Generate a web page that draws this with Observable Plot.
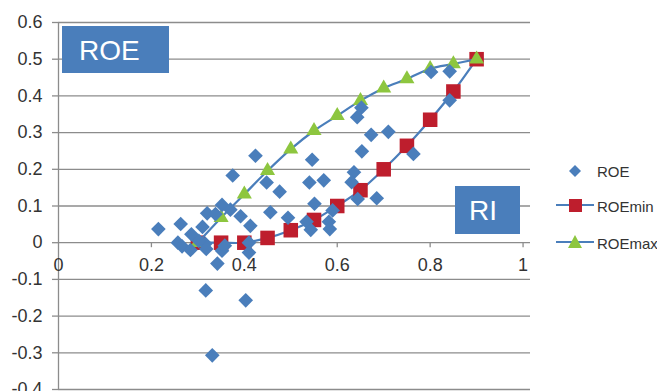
<!DOCTYPE html>
<html>
<head>
<meta charset="utf-8">
<script src="https://cdn.jsdelivr.net/npm/d3@7"></script>
<script src="https://cdn.jsdelivr.net/npm/@observablehq/plot@0.6"></script>
<style>
  html, body { margin: 0; padding: 0; background: #fff; overflow: hidden; }
  #wrap { position: relative; width: 657px; height: 391px; font-family: "Liberation Sans", Arial, sans-serif; }
  #chart { position: absolute; left: 0; top: 0; }
  .box { position: absolute; background: #4a7ebb; color: #fff; font-size: 28px; }
  .box span { position: absolute; line-height: 1; }
  .leg { position: absolute; font-size: 15px; color: #333; line-height: 1; }
  .legsym { position: absolute; }
</style>
</head>
<body>
<div id="wrap">
  <div id="chart"></div>
  <div class="box" style="left:62px;top:26px;width:107px;height:47px;"><span style="left:17px;top:11px;">ROE</span></div>
  <div class="box" style="left:455px;top:186px;width:65px;height:48px;"><span style="left:14px;top:11px;">RI</span></div>
  <svg class="legsym" style="left:550px;top:160px;" width="50" height="95">
    <path d="M25,5 L31,11 L25,17 L19,11 Z" fill="#4a7ebb"/>
    <line x1="6" y1="45" x2="44" y2="45" stroke="#4a7ebb" stroke-width="2"/>
    <rect x="19" y="39" width="13" height="13" fill="#be1e2d"/>
    <line x1="6" y1="82" x2="44" y2="82" stroke="#4a7ebb" stroke-width="2"/>
    <path d="M25,75 L32,88 L18,88 Z" fill="#8dc63f"/>
  </svg>
  <div class="leg" style="left:597px;top:164px;">ROE</div>
  <div class="leg" style="left:597px;top:199px;">ROEmin</div>
  <div class="leg" style="left:597px;top:236px;">ROEmax</div>
</div>
<script>
// ---- data ----
const riGrid   = [0.3, 0.35, 0.4, 0.45, 0.5, 0.55, 0.6, 0.65, 0.7, 0.75, 0.8, 0.85, 0.9];
const roeMin   = [0, 0, 0, 0.013, 0.034, 0.062, 0.1, 0.143, 0.2, 0.264, 0.335, 0.412, 0.5];
const roeMax   = [0, 0.068, 0.132, 0.196, 0.255, 0.305, 0.346, 0.387, 0.421, 0.446, 0.474, 0.487, 0.5];
const roeRI    = [0.215, 0.263, 0.286, 0.257, 0.266, 0.284, 0.310, 0.320, 0.338, 0.352, 0.370, 0.392, 0.375, 0.413,
                  0.316, 0.318, 0.352, 0.358, 0.342, 0.410, 0.410, 0.317, 0.403, 0.331, 0.302,
                  0.424, 0.448, 0.476, 0.456, 0.494, 0.546, 0.540, 0.571, 0.551, 0.534, 0.543, 0.590, 0.582, 0.584,
                  0.643, 0.652, 0.673, 0.710, 0.653, 0.636, 0.631, 0.644, 0.685, 0.764, 0.802, 0.842, 0.842];
const roeVal   = [0.037, 0.051, 0.023, 0.000, -0.010, -0.020, 0.043, 0.080, 0.078, 0.103, 0.090, 0.072, 0.183, 0.046,
                  -0.003, -0.017, -0.022, -0.008, -0.057, 0.000, -0.027, -0.130, -0.157, -0.307, 0.005,
                  0.237, 0.164, 0.139, 0.083, 0.068, 0.226, 0.164, 0.170, 0.106, 0.057, 0.035, 0.088, 0.057, 0.037,
                  0.342, 0.368, 0.294, 0.302, 0.249, 0.192, 0.165, 0.119, 0.121, 0.242, 0.465, 0.467, 0.388];
const xTicks = [0, 0.2, 0.4, 0.6, 0.8, 1];
const yTicks = [-0.4, -0.3, -0.2, -0.1, 0, 0.1, 0.2, 0.3, 0.4, 0.5, 0.6];

const minData = riGrid.map((x, i) => ({x, y: roeMin[i]}));
const maxData = riGrid.map((x, i) => ({x, y: roeMax[i]}));
const roeData = roeRI.map((x, i) => ({x, y: roeVal[i]}));

// ---- layout ----
const W = 657, H = 391, mL = 58, mR = 127, mT = 22, mB = 2;
const xMax = 1.016;
const innerH = H - mT - mB;
const y0px = mT + innerH * (0.6 - 0) / (0.6 - (-0.4));
const axisDy = y0px - (H - mB);

const blue = "#4a7ebb", red = "#be1e2d", green = "#8dc63f", grid = "#8c8c8c";
const fmt = d => String(+d.toFixed(1));

const chart = Plot.plot({
  width: W, height: H,
  marginLeft: mL, marginRight: mR, marginTop: mT, marginBottom: mB,
  x: {domain: [0, xMax]},
  y: {domain: [-0.4, 0.6]},
  style: {fontFamily: "'Liberation Sans', Arial, sans-serif", fontSize: "18px", color: "#333", background: "transparent", overflow: "visible"},
  marks: [
    Plot.ruleY(yTicks, {stroke: grid, strokeWidth: 1.3}),
    Plot.ruleX([0], {stroke: grid, strokeWidth: 1.3}),
    Plot.axisY(yTicks, {anchor: "left", tickSize: 6, tickPadding: 10, stroke: grid, strokeWidth: 1.3, tickFormat: fmt, fontSize: 18, label: null}),
    Plot.axisX(xTicks.filter(d => d > 0), {anchor: "bottom", dy: axisDy, tickSize: 5, tickPadding: 11, stroke: grid, strokeWidth: 1.3, fill: "none", label: null}),
    Plot.axisX(xTicks, {anchor: "bottom", dy: axisDy, tickSize: 5, tickPadding: 11, stroke: "none", tickFormat: fmt, fontSize: 18, label: null}),
    Plot.line(minData, {x: "x", y: "y", curve: "catmull-rom", stroke: blue, strokeWidth: 2.2}),
    Plot.dot(minData, {x: "x", y: "y", symbol: "square", r: 8.2, fill: red, stroke: "none"}),
    Plot.line(maxData, {x: "x", y: "y", curve: "catmull-rom", stroke: blue, strokeWidth: 2.2}),
    Plot.dot(maxData, {x: "x", y: "y", symbol: "triangle", r: 5.6, fill: green, stroke: "none"}),
    Plot.dot(roeData, {x: "x", y: "y", symbol: "diamond2", r: 6.6, fill: blue, stroke: "none"})
  ]
});
document.getElementById("chart").appendChild(chart);
</script>
</body>
</html>
